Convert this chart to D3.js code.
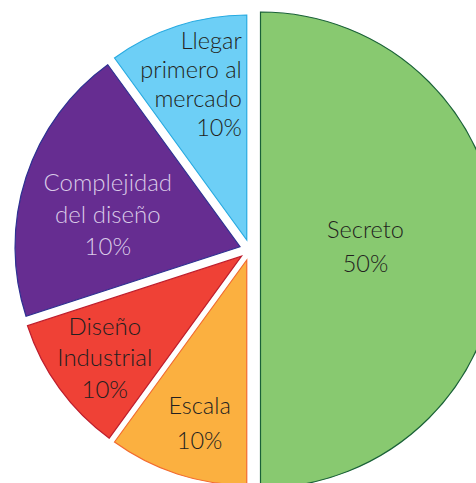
<!DOCTYPE html>
<html>
<head>
<meta charset="utf-8">
<script src="https://cdn.jsdelivr.net/npm/d3@7"></script>
<style>
  body { margin: 0; background: #fff; }
  svg text { font-family: Lato, "Open Sans", sans-serif; font-weight: 300; }
</style>
</head>
<body>
<div id="pie"></div>
<script>
// slices clockwise from 12 o'clock
var categories = ["Secreto", "Escala", "Diseño\nIndustrial", "Complejidad\ndel diseño", "Llegar\nprimero al\nmercado"];
var shares = [50, 10, 10, 20, 10];           // size of each wedge as drawn
var pctLabels = ["50%", "10%", "10%", "10%", "10%"]; // text printed on the wedge
var fills = ["#88c970", "#fbb040", "#ef4136", "#662d91", "#6dcff6"];
var strokes = ["#1a6138", "#f26a2e", "#be1e2d", "#2e3192", "#27aae1"];
var textColors = ["#231f20", "#231f20", "#231f20", "#dacbe8", "#231f20"];

var svgWidth = 476;
var svgHeight = 483;
var cx = 250, cy = 250;
var explode = 10.5;

// label placement per wedge: distance from wedge tip, nudge, line height
var labelR = [105, 172, 169, 139, 163];
var labelDx = [0, 6, 0, 0, 0];
var labelDy = [-3, 0, 3, 11, 0];
var lineH = [33.5, 35, 31.7, 31.7, 29];
var fontPx = [23.5, 23.5, 24, 24, 23.5];

var svg = d3.select("#pie")
    .append("svg")
    .attr("width", svgWidth)
    .attr("height", svgHeight);

var pie = d3.pie()
    .sort(null)
    .value(d => d);

var arcs = pie(shares);

function outerR(i) {
    return i === 0 ? 238 : 225;
}

var slices = svg.selectAll("g.slice")
    .data(arcs)
    .enter()
    .append("g")
    .attr("class", "slice")
    .attr("transform", function (d) {
        var mid = (d.startAngle + d.endAngle) / 2;
        var x = cx + Math.sin(mid) * explode;
        var y = cy - Math.cos(mid) * explode;
        return `translate(${x}, ${y})`;
    });

slices.append("path")
    .attr("d", (d, i) => d3.arc().innerRadius(0).outerRadius(outerR(i))(d))
    .attr("fill", (d, i) => fills[i])
    .attr("stroke", (d, i) => strokes[i])
    .attr("stroke-width", 1.2);

slices.each(function (d, i) {
    var mid = (d.startAngle + d.endAngle) / 2;
    var lines = categories[i].split("\n").concat([pctLabels[i]]);
    var n = lines.length;
    var lx = Math.sin(mid) * labelR[i] + labelDx[i];
    var ly = -Math.cos(mid) * labelR[i] + labelDy[i];
    var anchor = "middle";
    // the top wedge has its text set flush against its vertical edge
    if (i === arcs.length - 1) {
        anchor = "end";
        lx = -5;
    }
    var t = d3.select(this).append("text")
        .attr("text-anchor", anchor)
        .style("font-size", fontPx[i] + "px")
        .style("fill", textColors[i]);
    t.selectAll("tspan")
        .data(lines)
        .enter()
        .append("tspan")
        .attr("x", lx)
        .attr("y", (s, j) => ly + (j - (n - 1) / 2) * lineH[i] + 8)
        .text(s => s);
});
</script>
</body>
</html>
